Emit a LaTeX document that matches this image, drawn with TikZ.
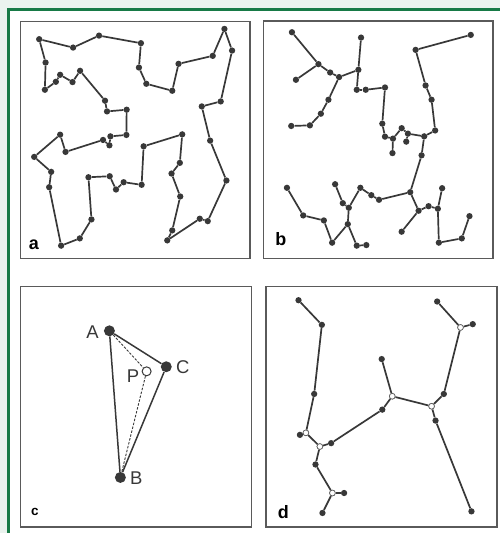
\documentclass[tikz,border=0pt]{standalone}
\usepackage{fontspec}
\setmainfont{Liberation Sans}
\usepackage{xcolor}
\definecolor{frameGreen}{HTML}{177A46}
\definecolor{paleGreen}{HTML}{EAF3EE}
\definecolor{inkGrey}{HTML}{383838}
\definecolor{boxGrey}{HTML}{5A5A5A}
\begin{document}
\begin{tikzpicture}[x=1pt,y=-1pt,
    dot/.style={circle,fill=inkGrey,inner sep=0pt,minimum size=6.3pt},
    hollow/.style={circle,draw=inkGrey!80,fill=white,line width=0.7pt,inner sep=0pt,minimum size=5.8pt},
    bigdot/.style={circle,fill=inkGrey,inner sep=0pt,minimum size=11pt},
    opendot/.style={circle,draw=inkGrey,fill=white,line width=1pt,inner sep=0pt,minimum size=9pt},
    edge/.style={inkGrey,line width=1.7pt},
    dashedge/.style={inkGrey,line width=0.9pt,dashed,dash pattern=on 2.5pt off 1.5pt},
    panel/.style={draw=boxGrey,line width=1.3pt},
    tag/.style={inner sep=0pt,font=\bfseries\fontsize{18}{18}\selectfont},
    letter/.style={inner sep=0pt,text=inkGrey,font=\fontsize{18.5}{18.5}\selectfont}]
    % background and frame
    \fill[paleGreen] (0,0) rectangle (501,534);
    \fill[white] (8.8,9.7) rectangle (501,534);
    \draw[frameGreen,line width=2.8pt] (8.8,534) -- (8.8,9.7) -- (501,9.7);
    % panels
    \draw[panel] (20.7,21.7) rectangle (250.7,259);
    \draw[panel] (264.3,21.2) rectangle (494.3,259);
    \draw[panel] (20.7,287.2) rectangle (252,528.3);
    \draw[panel] (266.7,287.2) rectangle (498.3,528.3);
    \node[tag] (tagA) at (34,245.7) {a};
    \node[tag] (tagB) at (281.7,240) {b};
    \node[tag,font=\bfseries\fontsize{13.5}{13.5}\selectfont] (tagC) at (35,513.3) {c};
    \node[tag] (tagD) at (284,513.3) {d};

    % panel a: closed tour
    \foreach \x/\y [count=\i] in {39.3/39.3, 73.3/47.7, 99.3/35.7, 141.3/43.3, 139.3/67.7,
        146.7/84, 172.7/91, 179/64, 213.3/56, 225/29, 232.7/50.7, 221.3/101.7, 202.3/106.7,
        210.7/141, 227/181, 208.3/221.7, 200.3/219.3, 167.7/241, 172.7/231, 180.7/197,
        172/174, 180.3/163.3, 182.7/134.7, 144/146.7, 142/185.3, 124/182.7, 116.3/190,
        110/176.7, 88.7/177.7, 91.7/220, 80/239, 61.3/246.3, 49.3/187.7, 51.3/172.3,
        34.3/157.3, 60.3/135, 65.7/152.3, 103.3/140.3, 109.7/145.7, 110.7/136.7,
        126.7/135.3, 127/110, 107.3/111.7, 105.3/101, 80.3/71, 72.7/82.3, 60.3/75,
        56/82, 45/90, 45.7/62.7}
        \node[dot] (a\i) at (\x,\y) {};
    \foreach \i [remember=\i as \j (initially 50)] in {1,...,50}
        \draw[edge] (a\j) -- (a\i);

    % panel b: spanning tree
    \foreach \x/\y [count=\i] in {292.7/32.3, 319.3/64.3, 296.7/80, 331/72.7, 340/77.3,
        359.3/70, 362/37.7, 357.7/90, 366.7/90, 386/87.7, 383.3/124, 386/137, 394/139,
        393.5/153.5, 402.7/128.5, 409/134, 407.3/142, 425.3/136.7, 436.3/130.8, 432.7/100,
        426.7/85.7, 416.7/50, 472/35, 329.3/100, 321.7/114, 310.7/125.7, 292/126.3,
        422.7/155.7, 411.3/192.7, 380/200.3, 372.3/195.7, 361.3/188.3, 349.7/208.3,
        343.7/203.7, 336/184.7, 348.7/224.7, 333/243.3, 324.7/221, 304/216, 287.7/188.3,
        357.7/246.3, 367.3/245.7, 419.7/211.3, 429.7/206.7, 402.7/232.3, 439/209.3,
        443.3/188.7, 440/243.3, 463/239, 470.7/216.7}
        \node[dot] (b\i) at (\x,\y) {};
    \foreach \u/\v in {1/2, 2/3, 2/4, 4/5, 5/6, 6/7, 6/8, 8/9, 9/10, 10/11, 11/12, 12/13,
        13/14, 13/15, 15/16, 16/17, 16/18, 18/19, 19/20, 20/21, 21/22, 22/23, 5/24, 24/25,
        25/26, 26/27, 18/28, 28/29, 29/30, 30/31, 31/32, 32/33, 33/34, 34/35, 33/36, 36/37,
        37/38, 38/39, 39/40, 36/41, 41/42, 29/43, 43/44, 43/45, 44/46, 46/47, 46/48, 48/49,
        49/50}
        \draw[edge] (b\u) -- (b\v);

    % panel c: triangle with inner point
    \node[bigdot] (ptA) at (109.7,331.7) {};
    \node[bigdot] (ptC) at (166.7,367.7) {};
    \node[bigdot] (ptB) at (120.7,478.7) {};
    \node[opendot] (ptP) at (147,372.3) {};
    \draw[edge,line width=1.5pt] (ptA) -- (ptC) -- (ptB) -- (ptA);
    \draw[dashedge] (ptA) -- (ptP) -- (ptB);
    \node[letter] (labA) at (92.7,333.3) {A};
    \node[letter] (labC) at (183.3,367.7) {C};
    \node[letter] (labP) at (133.3,376.7) {P};
    \node[letter] (labB) at (136.7,479.3) {B};

    % panel d: Steiner tree
    \foreach \x/\y [count=\i] in {299.3/301, 322.7/325.7, 315/395, 306.7/434, 300.7/436,
        320.7/447.7, 332/444.3, 316.3/465.7, 333.3/494.3, 345/494.3, 323.3/514.3,
        383.3/410.7, 393.3/397.3, 382.7/360, 432.7/407.3, 445/395, 436.7/421.7,
        472.7/512.7, 461.7/328.3, 438.3/302.3, 474/325}
        \node[dot] (d\i) at (\x,\y) {};
    \foreach \i in {4,6,9,13,15,19}
        \node[hollow] at (d\i) {};
    \foreach \u/\v in {1/2, 2/3, 3/4, 4/5, 4/6, 6/7, 7/12, 12/13, 13/14, 13/15, 15/16,
        16/19, 19/20, 19/21, 15/17, 17/18, 6/8, 8/9, 9/10, 9/11}
        \draw[edge] (d\u) -- (d\v);
\end{tikzpicture}
\end{document}
